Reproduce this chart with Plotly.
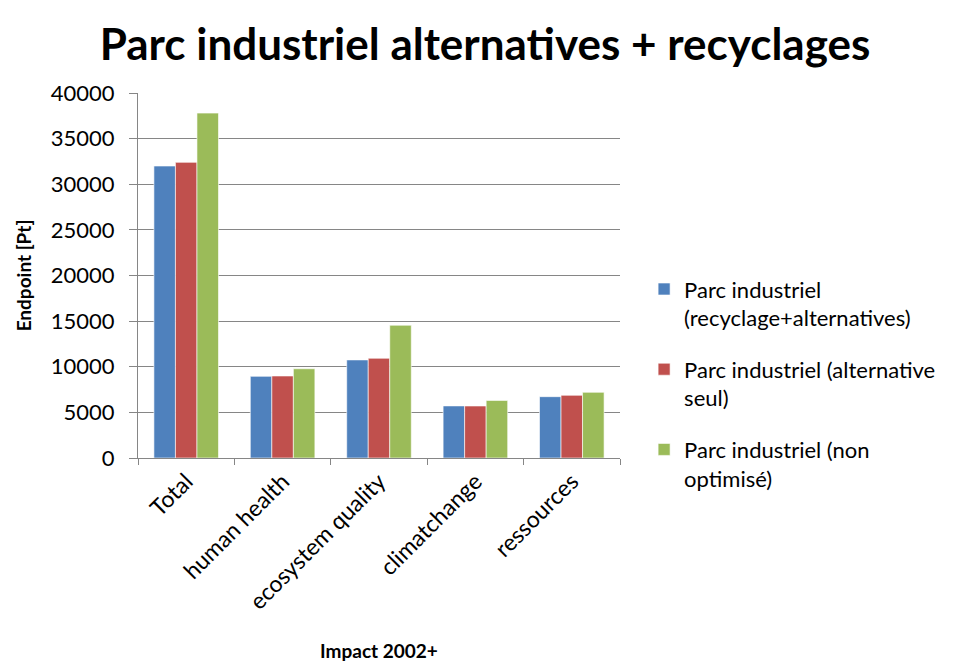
import plotly.graph_objects as go

categories = ["Total", "human health", "ecosystem quality", "climatchange", "ressources"]
series_names = [
    "Parc industriel<br>(recyclage+alternatives)",
    "Parc industriel (alternative<br>seul)",
    "Parc industriel (non<br>optimisé)",
]
recyclage_alternatives = [32000, 8950, 10750, 5710, 6720]
alternative_seul = [32400, 8990, 10930, 5700, 6870]
non_optimise = [37800, 9780, 14550, 6310, 7200]
colors = ["#4F81BD", "#C0504D", "#9BBB59"]
y_ticks = [0, 5000, 10000, 15000, 20000, 25000, 30000, 35000, 40000]

FONT = "Lato, 'Open Sans', sans-serif"

fig = go.Figure()
for i, (name, vals, col) in enumerate(zip(series_names, [recyclage_alternatives, alternative_seul, non_optimise], colors)):
    fig.add_trace(go.Bar(
        x=categories, y=vals, name=name, legendgroup=f"g{i}",
        marker=dict(color=col, line=dict(color="rgba(255,255,255,0.6)", width=1)),
    ))

fig.update_layout(
    width=970, height=670,
    margin=dict(l=138, r=350, t=93, b=212),
    paper_bgcolor="white", plot_bgcolor="white",
    barmode="group", bargap=0.33, bargroupgap=0,
    font=dict(family=FONT, color="black", size=21),
    title=dict(text="<b>Parc industriel alternatives + recyclages</b>",
               x=0.5, xref="container", xanchor="center",
               y=1 - 45/670, yref="container", yanchor="middle",
               font=dict(size=44, family=FONT, color="black")),
    legend=dict(x=1.05, xanchor="left", y=0.52, yanchor="top",
                font=dict(size=22, family=FONT), valign="top",
                tracegroupgap=20, itemwidth=30),
    showlegend=True,
)
fig.update_yaxes(
    range=[0, 40000], tickvals=y_ticks, ticktext=[str(v) for v in y_ticks],
    showgrid=True, gridcolor="#868686", gridwidth=1,
    showline=True, linecolor="#868686", linewidth=1,
    ticks="outside", ticklen=8, tickcolor="#868686", ticklabelstandoff=10,
    tickfont=dict(size=22),
    title=dict(text="<b>Endpoint [Pt]</b>", font=dict(size=19, family=FONT), standoff=14),
    zeroline=False,
)
fig.update_xaxes(
    showline=True, linecolor="#868686", linewidth=1,
    ticks="outside", ticklen=6, tickcolor="#868686", tickson="boundaries",
    tickangle=-45, tickfont=dict(size=23),
    title=dict(text="<b>Impact 2002+</b>", font=dict(size=19, family=FONT), standoff=31),
)

fig.write_html("out.html")
